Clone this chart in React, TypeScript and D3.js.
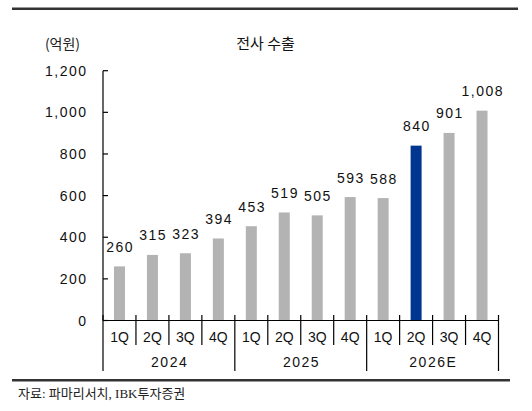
import React from "react";
import * as d3 from "d3";

const quarters = ["1Q", "2Q", "3Q", "4Q", "1Q", "2Q", "3Q", "4Q", "1Q", "2Q", "3Q", "4Q"];
const years = ["2024", "2025", "2026E"];
const values = [260, 315, 323, 394, 453, 519, 505, 593, 588, 840, 901, 1008];
const highlightIndex = 9;
const yTicks = [0, 200, 400, 600, 800, 1000, 1200];
const title = "전사 수출";
const unit = "(억원)";
const source = "자료: 파마리서치, IBK투자증권";

const W = 532;
const H = 411;
const numFont = "'Liberation Sans', Arial, sans-serif";
const krFont = "'Noto Sans CJK KR', sans-serif";

export default function App() {
  const idx = values.map((_, i) => i);
  const x = d3.scaleBand<number>().domain(idx).range([103, 498.5]).paddingInner(0).paddingOuter(0);
  const y = d3.scaleLinear().domain([0, 1200]).range([320.5, 70.7]);
  const bw = 11;
  const y0 = y(0);
  const fmt = d3.format(",");

  return (
    <svg width={W} height={H} style={{ position: "absolute", left: 0, top: 0, background: "#fff" }}>
      {/* top & bottom rules */}
      <line x1={12} x2={518} y1={8.7} y2={8.7} stroke="#333" strokeWidth={2.6} />
      <line x1={12} x2={510} y1={380.2} y2={380.2} stroke="#333" strokeWidth={2.5} />

      {/* title and unit */}
      <text x={265.5} y={49} textAnchor="middle" fontFamily={krFont} fontSize={15} fill="#111">{title}</text>
      <text x={62.5} y={48.5} textAnchor="middle" fontFamily={krFont} fontSize={14} fill="#222">{unit}</text>

      {/* bars */}
      {values.map((v, i) => {
        const cx = (x(i) as number) + x.bandwidth() / 2;
        return (
          <g key={i}>
            <rect x={cx - bw / 2} y={y(v)} width={bw} height={y0 - y(v)} fill={i === highlightIndex ? "#00368f" : "#b3b3b3"} />
            <text x={cx + 0.75} y={y(v) - 14.5} textAnchor="middle" fontFamily={numFont} fontSize={14} letterSpacing={1.5} fill="#111">{fmt(v)}</text>
          </g>
        );
      })}

      {/* y axis */}
      <line x1={103} x2={103} y1={y(1200)} y2={y0} stroke="#000" strokeWidth={1.2} />
      {yTicks.map((t) => (
        <g key={t}>
          <line x1={103} x2={108} y1={y(t)} y2={y(t)} stroke="#000" strokeWidth={1.2} />
          <text x={87.5} y={y(t) + 5} textAnchor="end" fontFamily={numFont} fontSize={14} letterSpacing={1.5} fill="#111">{fmt(t)}</text>
        </g>
      ))}

      {/* x axis */}
      <line x1={103} x2={498.5} y1={y0} y2={y0} stroke="#000" strokeWidth={1.2} />
      {d3.range(quarters.length + 1).map((k) => {
        const xx = k < quarters.length ? (x(k) as number) : 498.5;
        const isYear = k % 4 === 0;
        return (
          <line key={k} x1={xx} x2={xx} y1={y0 - 5.5} y2={isYear ? 371 : 345} stroke="#000" strokeWidth={1.2} />
        );
      })}
      {quarters.map((q, i) => (
        <text key={i} x={(x(i) as number) + x.bandwidth() / 2} y={341.5} textAnchor="middle" fontFamily={numFont} fontSize={14} fill="#111">{q}</text>
      ))}
      {years.map((yr, j) => {
        const a = x(j * 4) as number;
        const b = j * 4 + 4 < quarters.length ? (x(j * 4 + 4) as number) : 498.5;
        return (
          <text key={yr} x={(a + b) / 2 + 0.75} y={366.5} textAnchor="middle" fontFamily={numFont} fontSize={14} letterSpacing={1.5} fill="#111">{yr}</text>
        );
      })}

      {/* source */}
      <text x={18} y={398} fontFamily={"'Liberation Serif', 'Noto Sans CJK KR', serif"} fontSize={13} fill="#222">{source}</text>
    </svg>
  );
}
